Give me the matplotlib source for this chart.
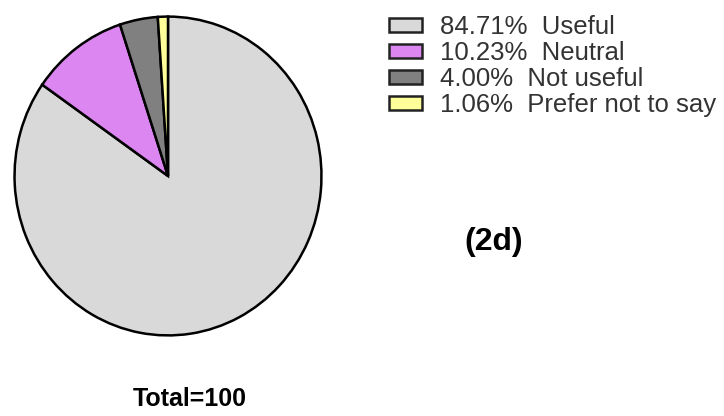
import matplotlib
matplotlib.use("Agg")
import matplotlib.pyplot as plt

# survey answers
categories = ["Useful", "Neutral", "Not useful", "Prefer not to say"]
percents = [84.71, 10.23, 4.00, 1.06]
colors = ["#d9d9d9", "#dc86f2", "#808080", "#ffff99"]
total_label = "Total=100"
panel_label = "(2d)"

plt.rcParams['font.family'] = ['Liberation Sans', 'DejaVu Sans']

fig = plt.figure(figsize=(7.24, 4.16), dpi=100)

# pie box in pixels: x 13..323, y 15..337 (slightly taller than wide)
W, H = 724, 416
x0, x1, y0, y1 = 13, 323, 15, 337
ax = fig.add_axes([x0 / W, (H - y1) / H, (x1 - x0) / W, (y1 - y0) / H])
wedges, _ = ax.pie(percents, colors=colors, startangle=90, counterclock=False,
                   radius=1.0,
                   wedgeprops=dict(edgecolor="black", linewidth=1.8))
ax.set_aspect("auto")
ax.set_xlim(-1.01, 1.01)
ax.set_ylim(-1.01, 1.01)
ax.axis("off")

labels = [f"{p:.2f}%  {c}" for p, c in zip(percents, categories)]
leg = fig.legend(wedges, labels, loc="upper left",
                 bbox_to_anchor=(389 / W, 1 - 15 / H),
                 frameon=False, fontsize=18.5, handlelength=1.28,
                 handleheight=0.5, handletextpad=0.7, labelspacing=0.08,
                 borderaxespad=0, borderpad=0)
for t in leg.get_texts():
    t.set_color("#333333")
for h in leg.legend_handles:
    h.set_linewidth(1.8)
    h.set_edgecolor("#222222")

fig.text(494 / W, 1 - 242 / H, panel_label, ha="center", va="center",
         fontsize=23, fontweight="bold", color="black")
fig.text(190 / W, 1 - 399 / H, total_label, ha="center", va="center",
         fontsize=18, fontweight="bold", color="black")

fig.savefig("out.png", dpi=100)
